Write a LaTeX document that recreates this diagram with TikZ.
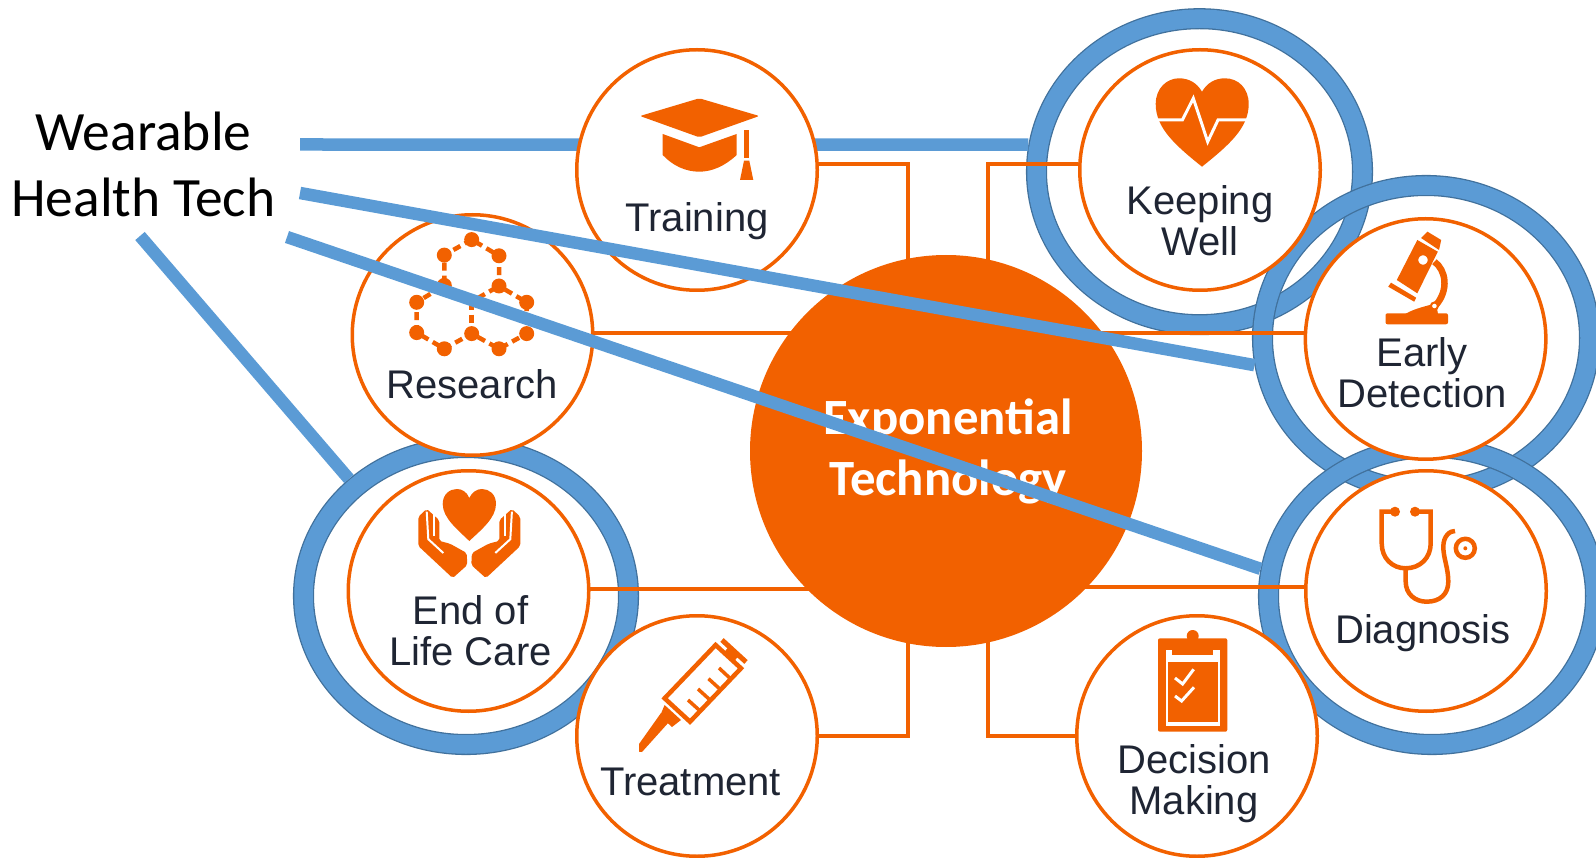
\documentclass[tikz,border=0pt]{standalone}
\usepackage{fontspec}
\setmainfont{Liberation Sans}
\newfontfamily\calibrifont{Carlito}
\usetikzlibrary{shapes.geometric}
\definecolor{techorange}{HTML}{F26100}
\definecolor{wearblue}{HTML}{5B9BD5}
\definecolor{wearedge}{HTML}{41719C}
\definecolor{tagink}{HTML}{1F2533}
\tikzset{
  ring/.style={ellipse,draw=wearedge,double=wearblue,line width=1.3pt,double distance=18.5pt,outer sep=10.5pt,inner sep=0pt},
  orb/.style={circle,draw=techorange,line width=3.5pt,fill=white,minimum size=240.5pt,inner sep=0pt},
  tag/.style={text=tagink,align=center,inner sep=0pt,font=\fontsize{40}{41.5}\selectfont},
  link/.style={draw=techorange,line width=4pt},
  wire/.style={draw=wearblue,line width=12.5pt},
  icon/.style={fill=techorange,draw=none},
  iconline/.style={draw=techorange,line width=4.5pt,fill=none},
  cutline/.style={draw=white,line width=3pt,fill=none},
}
\newcommand{\handicon}{%
  \fill[icon,rounded corners=2pt] (418.3,516.8) -- (426.7,508.9) -- (439.3,520.2) -- (439.3,540.9) -- (450,543.7) -- (466.7,553) -- (467.3,565) -- (452.7,578.1) -- (418.3,546) -- cycle;
  \draw[draw=white,line width=2pt] (426.7,511.6) -- (428.3,539.2) -- (443.3,553);
  \draw[draw=white,line width=2pt] (434,511.6) -- (434,535.7);
}
\begin{document}
\begin{tikzpicture}[x=1pt,y=-1pt]
\clip (0,0) rectangle (1596,858);

%rings round the wearable areas
\node[ring,minimum width=326pt,minimum height=306pt] (ringwell) at (1199.5,171.7) {};
\node[ring,minimum width=327pt,minimum height=305pt] (ringearly) at (1426,338) {};
\node[ring,minimum width=327pt,minimum height=297pt] (ringdiag) at (1432,596) {};
\node[ring,minimum width=325pt,minimum height=297pt] (ringlife) at (466,596) {};

\node[text=black,align=center,inner sep=0pt,font=\calibrifont\fontsize{55.5}{66}\selectfont] (wearable) at (143.5,164) {Wearable\\Health Tech};
\coordinate (wiretop) at (300,144.5);
\coordinate (wiremid) at (300,193);
\coordinate (wirelow) at (287,237);
\coordinate (wireside) at (140,236);

%this one goes behind the training circle
\draw[wire] (wiretop) -- (ringwell.171);

%orange circles
\node[orb] (training) at (697,170) {};
\node[orb] (keeping) at (1200,170) {};
\node[orb] (research) at (472.5,335) {};
\node[orb] (early) at (1425.6,339) {};
\node[orb] (endlife) at (468.5,591) {};
\node[orb] (diagnosis) at (1426,591) {};
\node[orb] (treatment) at (697,736) {};
\node[orb] (decision) at (1197,736) {};

\node[circle,fill=techorange,minimum size=392pt,inner sep=0pt] (tech) at (946,451) {};
\node[text=white,align=center,inner sep=0pt,font=\calibrifont\bfseries\fontsize{50.8}{61}\selectfont] (techtag) at (948,451) {Exponential\\Technology};
\coordinate (techul) at (908,300);
\coordinate (techur) at (987.5,300);
\coordinate (techll) at (908,600);
\coordinate (techlr) at (987.5,600);

%connectors
\draw[link] (training.3) -| (techul);
\draw[link] (keeping.177) -| (techur);
\draw[link] (research.1) -- (research.1 -| tech.center);
\draw[link] (early.177) -- (early.177 -| tech.center);
\draw[link] (endlife.1) -- (endlife.1 -| tech.center);
\draw[link] (diagnosis.178) -- (diagnosis.178 -| tech.center);
\draw[link] (treatment.east) -| (techll);
\draw[link] (decision.west) -| (techlr);

%labels
\node[tag,anchor=base] (trainingtag) at (697,232) {Training};
\node[tag] (keepingtag) at (1200,220.8) {Keeping\\Well};
\node[tag,anchor=base] (researchtag) at (472,398.5) {Research};
\node[tag] (earlytag) at (1422,372.5) {Early\\Detection};
\node[tag] (endlifetag) at (470.5,630.8) {End of\\Life Care};
\node[tag,anchor=base] (diagnosistag) at (1423,643) {Diagnosis};
\node[tag,anchor=base] (treatmenttag) at (690.6,795) {Treatment};
\node[tag] (decisiontag) at (1194,783.5) {Decision\\Making};

%graduation cap
\fill[icon,rounded corners=2pt] (640,116) -- (699.3,98.3) -- (759.3,116) -- (699.3,137.3) -- cycle;
\fill[icon] (662.7,134) -- (699.3,147.3) -- (736.7,134) -- (736.7,155) .. controls (725,166) and (712,171.7) .. (699.3,171.7) .. controls (686,171.7) and (673,166) .. (662.7,155) -- cycle;
\fill[icon] (744,130) rectangle (749.3,158);
\fill[icon] (740,180) -- (753.3,180) -- (749.3,160.7) -- (744,160.7) -- cycle;

%heart with pulse
\fill[icon] (1202,166.7) .. controls (1175,145) and (1155.7,128) .. (1155.7,104) .. controls (1155.7,88) and (1167,78.3) .. (1179,78.3) .. controls (1189,78.3) and (1197,83) .. (1202,91.7) .. controls (1207,83) and (1215,78.3) .. (1225,78.3) .. controls (1238,78.3) and (1248.7,88) .. (1248.7,104) .. controls (1248.7,128) and (1229,145) .. (1202,166.7) -- cycle;
\draw[cutline] (1154,120) -- (1182.4,120) -- (1193.3,98.3) -- (1207.7,141.7) -- (1218,120) -- (1250,120);

%microscope
\fill[icon,rounded corners=2pt] (1385.5,313.3) rectangle (1448,324.3);
\fill[icon] (1417.3,240) -- (1437.8,251.7) -- (1417.3,293.3) -- (1396.8,280) -- cycle;
\fill[icon] (1421,238) -- (1427.5,231.7) -- (1441.2,240) -- (1439,250) -- cycle;
\fill[icon] (1388.2,286.7) -- (1391,282.7) -- (1416.2,297.7) -- (1414.2,301.7) -- cycle;
\draw[draw=techorange,line width=6.5pt] (1434.4,261.7) .. controls (1446,270) and (1449,290) .. (1436,305);
\fill[icon] (1405.3,314) .. controls (1415,308) and (1428,306) .. (1436,303) -- (1438,314) -- cycle;
\draw[draw=techorange,line width=2.5pt,fill=white] (1423,260) circle (6pt);
\draw[draw=techorange,line width=2pt,fill=white] (1434.4,306) circle (3.5pt);

%hexagons
\draw[draw=techorange,line width=4.5pt,dash pattern=on 8pt off 5pt] (471.7,239.6) -- (444.3,255.1) -- (444.3,285.4) -- (416.7,302.3) -- (416.7,332.6) -- (444.3,348.8) -- (471.7,333.6) -- (499,348.8) -- (526.7,333.6) -- (526.7,302.3) -- (499,286) -- (499,255.8) -- cycle;
\draw[draw=techorange,line width=4.5pt,dash pattern=on 8pt off 5pt] (444.3,285.4) -- (471.7,301.6) -- (499,286);
\draw[draw=techorange,line width=4.5pt,dash pattern=on 8pt off 5pt] (471.7,301.6) -- (471.7,333.6);
\fill[icon] (471.7,239.6) circle (7.5pt) (444.3,255.1) circle (7.5pt) (499,255.8) circle (7.5pt) (444.3,285.4) circle (7.5pt) (499,286) circle (7.5pt) (416.7,302.3) circle (7.5pt) (526.7,302.3) circle (7.5pt) (416.7,332.6) circle (7.5pt) (471.7,333.6) circle (7.5pt) (526.7,333.6) circle (7.5pt) (444.3,348.8) circle (7.5pt) (499,348.8) circle (7.5pt);

%heart in hands
\fill[icon] (469.3,541) .. controls (458,530) and (442.7,518) .. (442.7,504) .. controls (442.7,494) and (450,489) .. (457,489) .. controls (462,489) and (467,492) .. (469.3,498) .. controls (472,492) and (477,489) .. (482,489) .. controls (489,489) and (496,494) .. (496,504) .. controls (496,518) and (481,530) .. (469.3,541) -- cycle;
\handicon
\begin{scope}[xshift=938.6pt,xscale=-1]
\handicon
\end{scope}

%syringe
\draw[draw=techorange,line width=4.5pt,fill=white,line join=miter] (715.6,645) -- (741,668.3) -- (690,721.7) -- (664.6,698.3) -- cycle;
\draw[draw=techorange,line width=3.5pt] (700.2,711) -- (688,700) (710.4,700.3) -- (698,689) (720.6,689.7) -- (708.5,678.7) (730.8,679) -- (719,668);
\draw[draw=techorange,line width=5pt] (722,640) -- (746,662) (726,650) -- (736,659);
\fill[icon] (664.6,705) -- (681,720) -- (672,727) -- (660,716) -- cycle;
\fill[icon] (661,713) -- (669,722) -- (642,752) -- (639,751.7) -- (639,744) -- cycle;

%clipboard
\fill[icon,rounded corners=2pt] (1158,638.3) rectangle (1227.3,731.7);
\fill[icon] (1192.7,636) circle (6pt);
\fill[white] (1165.5,650) rectangle (1219.5,726);
\fill[icon] (1168,662) rectangle (1217.5,722);
\fill[icon] (1172,645) rectangle (1213,655);
\draw[cutline] (1175,678) -- (1182.6,684) -- (1193.7,669.3);
\draw[cutline] (1175,696) -- (1181.6,701) -- (1194,687.3);

%stethoscope
\draw[iconline,line cap=round] (1395,511.7) -- (1381.7,511.7) -- (1381.7,543.3) .. controls (1381.7,558) and (1392,568.3) .. (1405.7,568.3) .. controls (1420,568.3) and (1430.7,558) .. (1430.7,543.3) -- (1430.7,511.7) -- (1415,511.7);
\draw[iconline] (1405.7,568.3) -- (1405.7,581.7) .. controls (1405.7,594) and (1415,601.7) .. (1426.7,601.7) .. controls (1440,601.7) and (1448.3,594) .. (1448.3,581.7) .. controls (1448.3,568) and (1443.3,558) .. (1443.3,546.7) .. controls (1443.3,536) and (1450,530.7) .. (1455,531);
\fill[icon] (1395,511.7) circle (5pt) (1415,511.7) circle (5pt);
\draw[iconline] (1465.3,548.3) circle (9.5pt);
\fill[icon] (1465.3,548.3) circle (2pt);

%wires on top of everything
\draw[wire] (wiremid) -- (ringearly.189.6);
\draw[wire] (wirelow) -- (ringdiag.171.7);
\draw[wire] (wireside) -- (ringlife.135);
\end{tikzpicture}
\end{document}
